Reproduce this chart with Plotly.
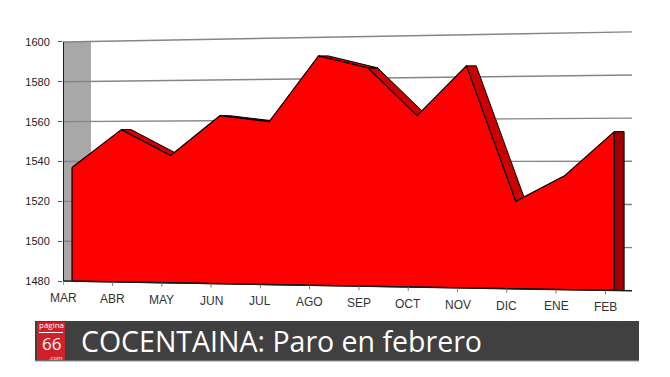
import plotly.graph_objects as go

# ---- data ----
months = ["MAR", "ABR", "MAY", "JUN", "JUL", "AGO", "SEP", "OCT", "NOV", "DIC", "ENE", "FEB"]
paro = [1537, 1556, 1543, 1563, 1560, 1593, 1587, 1563, 1588, 1520, 1533, 1555]
y_ticks = [1480, 1500, 1520, 1540, 1560, 1580, 1600]
title_text = "COCENTAINA: Paro en febrero"
logo_top, logo_mid, logo_bot = "página", "66", ".com"

# ---- geometry / style constants ----
X0, X1 = -0.183, 11.36
Y0, Y1 = 1473, 1606
BASE = y_ticks[0]
FLOOR_DROP = 4.87      # perspective slope of the floor
GRID_GAIN = 1.0829     # perspective spread of grid lines towards the right
DEPTH = 0.2            # 3D depth offset (category units)
LABEL_SHIFT = -0.18
WALL_X = 0.385
OFF = 8                # page body margin
W, H = 670 - OFF, 377 - OFF
PL, PR, PT, PB = 63, 632, 30, 295   # plot area in window pixels
ML, MR, MT, MB = PL - OFF, W - (PR - OFF), PT - OFF, H - (PB - OFF)
PW, PH = PR - PL, PB - PT


def floor(x):
    return BASE - FLOOR_DROP * (x - X0) / (X1 - X0)


def px(p):
    return (p - PL) / PW


def py(p):
    return (PB - p) / PH


xs = list(range(len(months)))
fig = go.Figure()

# left wall
fig.add_trace(go.Scatter(x=[X0, WALL_X, WALL_X, X0, X0], y=[y_ticks[-1], y_ticks[-1], BASE, BASE, y_ticks[-1]],
                         fill="toself", fillcolor="#a8a8a8", line=dict(width=0), mode="lines", hoverinfo="skip"))

# perspective gridlines
gx, gy = [], []
for v in y_ticks[1:]:
    gx += [X0, X1, None]
    gy += [v, BASE - FLOOR_DROP + (v - BASE) * GRID_GAIN, None]
fig.add_trace(go.Scatter(x=gx, y=gy, mode="lines", line=dict(color="#858585", width=1.4), hoverinfo="skip"))

# left axis line
fig.add_trace(go.Scatter(x=[X0, X0], y=[BASE, y_ticks[-1]], mode="lines",
                         line=dict(color="#1a1a1a", width=2), hoverinfo="skip"))

# side faces (visible on descending segments)
sx, sy = [], []
for i in range(len(paro) - 1):
    if paro[i + 1] < paro[i]:
        sx += [xs[i], xs[i + 1], xs[i + 1] + DEPTH, xs[i] + DEPTH, xs[i], None]
        sy += [paro[i], paro[i + 1], paro[i + 1], paro[i], paro[i], None]
fig.add_trace(go.Scatter(x=sx, y=sy, fill="toself", fillcolor="#cc0000", mode="lines",
                         line=dict(color="#000000", width=1), hoverinfo="skip"))

# end face
xl = xs[-1]
fig.add_trace(go.Scatter(x=[xl, xl + DEPTH, xl + DEPTH, xl, xl],
                         y=[paro[-1], paro[-1], floor(xl + DEPTH), floor(xl), paro[-1]],
                         fill="toself", fillcolor="#a00000", mode="lines",
                         line=dict(color="#000000", width=1), hoverinfo="skip"))

# front face
fx = xs + [xs[-1], xs[0], xs[0]]
fy = paro + [floor(xs[-1]), floor(xs[0]), paro[0]]
fig.add_trace(go.Scatter(x=fx, y=fy, fill="toself", fillcolor="#ff0000", mode="lines",
                         line=dict(color="#000000", width=1.2), hoverinfo="skip"))

# floor line
fig.add_trace(go.Scatter(x=[X0, X1], y=[floor(X0), floor(X1)], mode="lines",
                         line=dict(color="#1a1a1a", width=1.5), hoverinfo="skip"))

# x tick marks
tx, ty = [], []
for i in xs:
    x = i + LABEL_SHIFT
    tx += [x, x, None]
    ty += [floor(x), floor(x) - 2, None]
fig.add_trace(go.Scatter(x=tx, y=ty, mode="lines", line=dict(color="#777777", width=1), hoverinfo="skip"))

annotations = []
for i, m in enumerate(months):
    x = i + LABEL_SHIFT
    annotations.append(dict(x=x, y=floor(x), xref="x", yref="y", text=m, showarrow=False,
                            yanchor="top", xanchor="center", yshift=-8,
                            font=dict(family="Arial", size=12, color="#333333")))

# title bar
shapes = [
    dict(type="rect", xref="paper", yref="paper", x0=px(35), x1=px(639), y0=py(361), y1=py(321),
         fillcolor="#404040", line=dict(width=0), layer="above"),
    dict(type="line", xref="paper", yref="paper", x0=px(35), x1=px(639), y0=py(361), y1=py(361),
         line=dict(color="#9a9a9a", width=1), layer="above"),
    dict(type="rect", xref="paper", yref="paper", x0=px(37), x1=px(65), y0=py(360), y1=py(322),
         fillcolor="#d0202a", line=dict(width=0), layer="above"),
    dict(type="line", xref="paper", yref="paper", x0=px(39), x1=px(63), y0=py(332.5), y1=py(332.5),
         line=dict(color="#ffffff", width=1), layer="above"),
]
annotations += [
    dict(x=px(51), y=py(330.5), xref="paper", yref="paper", text=logo_top, showarrow=False,
         xanchor="center", yanchor="bottom", borderpad=0,
         font=dict(family="Open Sans", size=8, color="white")),
    dict(x=px(51), y=py(343), xref="paper", yref="paper", text=logo_mid, showarrow=False,
         xanchor="center", yanchor="middle", borderpad=0,
         font=dict(family="Open Sans", size=17, color="white")),
    dict(x=px(56), y=py(363), xref="paper", yref="paper", text=logo_bot, showarrow=False,
         xanchor="center", yanchor="bottom", borderpad=0,
         font=dict(family="Open Sans", size=6, color="white")),
    dict(x=px(79), y=py(341), xref="paper", yref="paper", text=title_text, showarrow=False,
         xanchor="left", yanchor="middle", font=dict(family="Open Sans", size=28.5, color="white")),
]

fig.update_layout(
    width=W, height=H,
    margin=dict(l=ML, r=MR, t=MT, b=MB),
    paper_bgcolor="white", plot_bgcolor="white",
    showlegend=False,
    xaxis=dict(range=[X0, X1], visible=False, fixedrange=True),
    yaxis=dict(range=[Y0, Y1], tickvals=y_ticks, ticktext=[str(v) for v in y_ticks],
               showgrid=False, zeroline=False, showline=False,
               ticks="outside", ticklen=4, tickcolor="#555555", ticklabelstandoff=6,
               tickfont=dict(family="Arial", size=11, color="#222222"), fixedrange=True),
    shapes=shapes,
    annotations=annotations,
)

fig.write_html("out.html")
